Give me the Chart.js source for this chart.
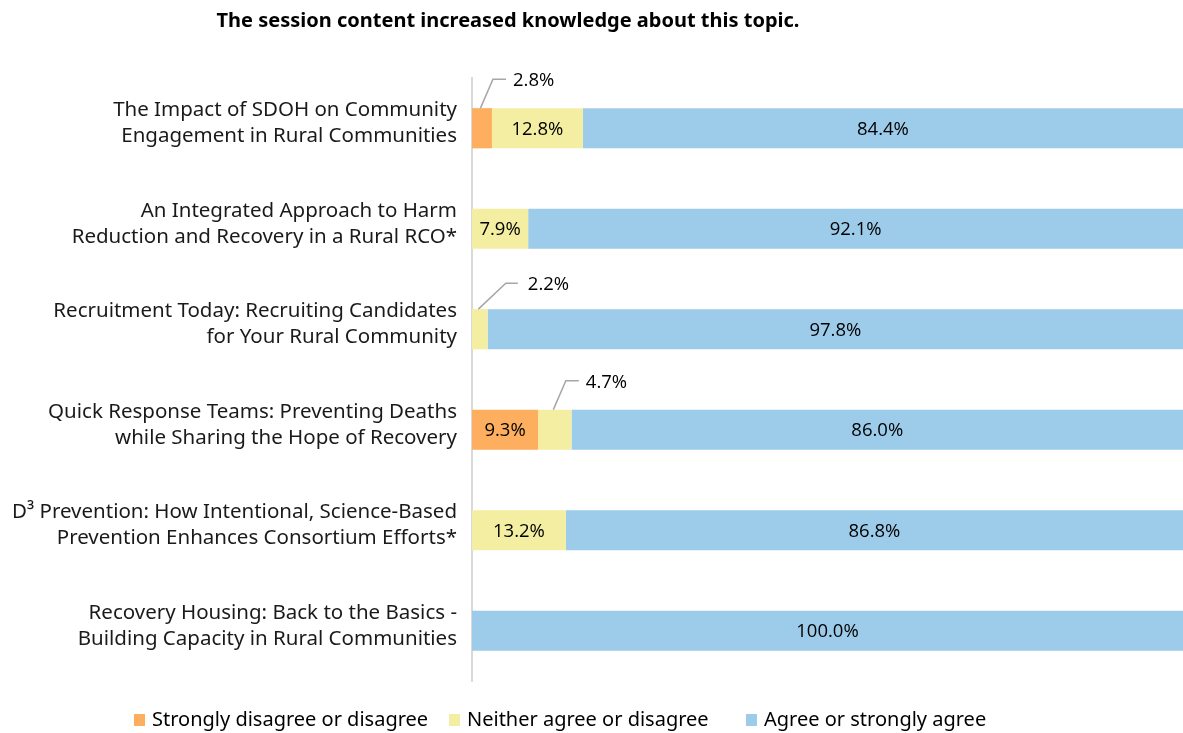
<!DOCTYPE html>
<html>
<head>
<meta charset="utf-8">
<script src="https://cdn.jsdelivr.net/npm/chart.js@4.4.1/dist/chart.umd.min.js"></script>
<style>
  html, body { margin: 0; padding: 0; background: #fff; }
  #wrap { width: 1183px; height: 733px; position: relative; }
</style>
</head>
<body>
<div id="wrap"><canvas id="chart"></canvas></div>
<script>
const TITLE = 'The session content increased knowledge about this topic.';
const sessions = [
  ['The Impact of SDOH on Community', 'Engagement in Rural Communities'],
  ['An Integrated Approach to Harm', 'Reduction and Recovery in a Rural RCO*'],
  ['Recruitment Today: Recruiting Candidates', 'for Your Rural Community'],
  ['Quick Response Teams: Preventing Deaths', 'while Sharing the Hope of Recovery'],
  ['D\u00B3 Prevention: How Intentional, Science-Based', 'Prevention Enhances Consortium Efforts*'],
  ['Recovery Housing: Back to the Basics -', 'Building Capacity in Rural Communities'],
];
const seriesNames = ['Strongly disagree or disagree', 'Neither agree or disagree', 'Agree or strongly agree'];
const disagree = [2.8, 0, 0, 9.3, 0, 0];
const neutral = [12.8, 7.9, 2.2, 4.7, 13.2, 0];
const agree = [84.4, 92.1, 97.8, 86.0, 86.8, 100.0];

const COLORS = ['#fdae5e', '#f3eea2', '#9dcbea'];
const LABEL_FONT = '"Noto Sans", "Open Sans", sans-serif';
const VALUE_FONT = '"Open Sans", "Noto Sans", sans-serif';
const LEADER = '#a6a6a6';

// small slices get a label above the bar with an elbow leader line
const CALLOUT_MIN = 5;
const calloutShift = { '1:2': { dx: 26, dy: 26, run: 12, gap: 10 } };
const calloutDefault = { dx: 11, dy: 29, run: 13, gap: 7 };

const titlePlugin = {
  id: 'titleText',
  afterDraw(chart) {
    const ctx = chart.ctx;
    ctx.save();
    ctx.font = '700 20px ' + LABEL_FONT;
    ctx.fillStyle = '#000';
    ctx.textAlign = 'center';
    ctx.textBaseline = 'middle';
    ctx.fillText(TITLE, 508, 21);
    ctx.restore();
  },
};

const valueLabels = {
  id: 'valueLabels',
  afterDatasetsDraw(chart) {
    const ctx = chart.ctx;
    ctx.save();
    ctx.font = '18.5px ' + VALUE_FONT;
    ctx.fillStyle = '#000';
    chart.data.datasets.forEach((ds, di) => {
      const meta = chart.getDatasetMeta(di);
      meta.data.forEach((bar, i) => {
        const v = ds.data[i];
        if (!v) return;
        const text = v.toFixed(1) + '%';
        const cx = (bar.x + bar.base) / 2;
        if (v >= CALLOUT_MIN) {
          ctx.textAlign = 'center';
          ctx.textBaseline = 'middle';
          ctx.fillText(text, cx, bar.y + 1);
          return;
        }
        const c = calloutShift[di + ':' + i] || calloutDefault;
        const top = bar.y - bar.height / 2;
        const ex = cx + c.dx, ey = top - c.dy;
        ctx.strokeStyle = LEADER;
        ctx.lineWidth = 1.5;
        ctx.beginPath();
        ctx.moveTo(cx - 1.5, top);
        ctx.lineTo(ex, ey);
        ctx.lineTo(ex + c.run, ey);
        ctx.stroke();
        ctx.textAlign = 'left';
        ctx.textBaseline = 'middle';
        ctx.fillText(text, ex + c.run + c.gap, ey + 2);
      });
    });
    ctx.restore();
  },
};

// legend row under the plot, one swatch + name per series
const legendStarts = [134, 449, 746];
const bottomLegend = {
  id: 'bottomLegend',
  afterDraw(chart) {
    const ctx = chart.ctx;
    const y = 720;
    ctx.save();
    ctx.font = '20px ' + LABEL_FONT;
    ctx.textBaseline = 'middle';
    ctx.textAlign = 'left';
    chart.data.datasets.forEach((ds, i) => {
      const x = legendStarts[i];
      ctx.fillStyle = ds.backgroundColor;
      ctx.fillRect(x, y - 6, 11, 12);
      ctx.fillStyle = '#000';
      ctx.fillText(ds.label, x + 18, y);
    });
    ctx.restore();
  },
};

const values = [disagree, neutral, agree];

new Chart(document.getElementById('chart'), {
  type: 'bar',
  data: {
    labels: sessions,
    datasets: values.map((data, i) => ({
      label: seriesNames[i],
      data,
      backgroundColor: COLORS[i],
      borderWidth: 0,
      barPercentage: 0.4,
      categoryPercentage: 1,
    })),
  },
  options: {
    indexAxis: 'y',
    responsive: true,
    maintainAspectRatio: false,
    animation: false,
    layout: { padding: { top: 78, bottom: 52, left: 0, right: 0 } },
    plugins: {
      legend: { display: false },
      tooltip: { enabled: false },
    },
    scales: {
      x: { stacked: true, min: 0, max: 100, display: false },
      y: {
        stacked: true,
        afterFit(scale) { scale.width = 472; },
        grid: { display: false, drawTicks: false },
        border: { color: '#d9d9d9', width: 2 },
        ticks: {
          padding: 15,
          labelOffset: -5,
          color: '#1a1a1a',
          font: { family: LABEL_FONT, size: 20.5, lineHeight: 1.27 },
        },
      },
    },
  },
  plugins: [titlePlugin, valueLabels, bottomLegend],
});
</script>
</body>
</html>
